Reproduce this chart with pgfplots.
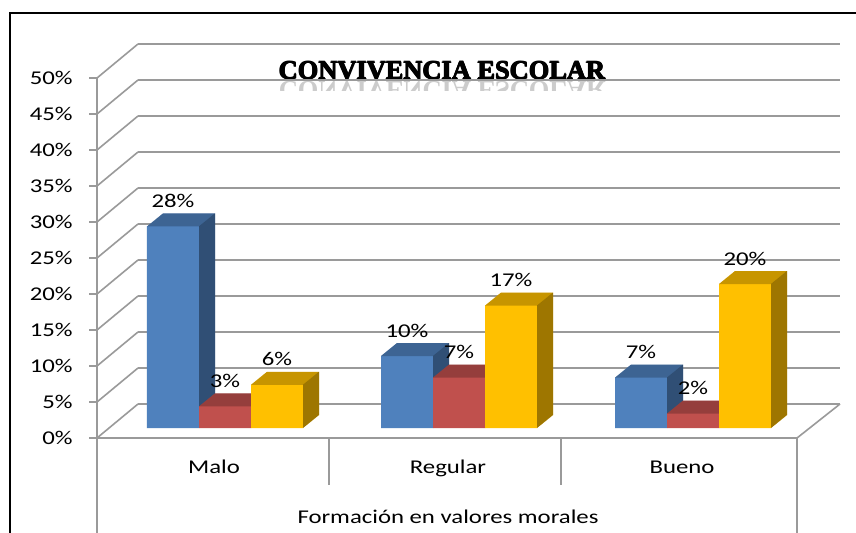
\documentclass[border=0pt]{standalone}
\usepackage{fontspec}
\setmainfont{Carlito}[FakeStretch=1.27]
\newfontfamily\titlefont{Liberation Serif}
\usepackage{pgfplots}
\pgfplotsset{compat=1.18}
\definecolor{blueF}{HTML}{4F81BD}
\definecolor{redF}{HTML}{C0504D}
\definecolor{yelF}{HTML}{FFC000}
\definecolor{gridc}{HTML}{9A9A9A}
\newcommand\lblfont{\fontsize{9.75pt}{11pt}\selectfont}
\newcommand\ttl{\titlefont\bfseries\fontsize{13.2pt}{15pt}\selectfont CONVIVENCIA ESCOLAR}

% a 3-D bar drawn at its data point (top centre of the front face)
\pgfdeclareplotmark{box3d}{%
  \pgfscope
  \pgfmathsetmacro\hh{\barh*3.6}%
  % front face
  \pgfpathrectangle{\pgfpoint{-13pt}{-\hh pt}}{\pgfpoint{26pt}{\hh pt}}%
  % top face
  \pgfpathmoveto{\pgfpoint{-13pt}{0pt}}%
  \pgfpathlineto{\pgfpoint{13pt}{0pt}}%
  \pgfpathlineto{\pgfpoint{21pt}{6.5pt}}%
  \pgfpathlineto{\pgfpoint{-5pt}{6.5pt}}%
  \pgfpathclose
  % side face
  \pgfpathmoveto{\pgfpoint{13pt}{0pt}}%
  \pgfpathlineto{\pgfpoint{21pt}{6.5pt}}%
  \pgfpathlineto{\pgfpoint{21pt}{6.5pt-\hh pt}}%
  \pgfpathlineto{\pgfpoint{13pt}{-\hh pt}}%
  \pgfpathclose
  \pgfusepathqfill
  \pgfsetfillcolor{black}%
  \pgfsetfillopacity{0.22}%
  \pgfpathmoveto{\pgfpoint{-13pt}{0pt}}%
  \pgfpathlineto{\pgfpoint{13pt}{0pt}}%
  \pgfpathlineto{\pgfpoint{21pt}{6.5pt}}%
  \pgfpathlineto{\pgfpoint{-5pt}{6.5pt}}%
  \pgfpathclose
  \pgfusepathqfill
  \pgfsetfillopacity{0.38}%
  \pgfpathmoveto{\pgfpoint{13pt}{0pt}}%
  \pgfpathlineto{\pgfpoint{21pt}{6.5pt}}%
  \pgfpathlineto{\pgfpoint{21pt}{6.5pt-\hh pt}}%
  \pgfpathlineto{\pgfpoint{13pt}{-\hh pt}}%
  \pgfpathclose
  \pgfusepathqfill
  \endpgfscope
}

\begin{document}
\begin{tikzpicture}[x=0.5pt,y=0.5pt]
\useasboundingbox (0,0) rectangle (856,532);
\fill[white] (0,0) rectangle (856,532);
% outer frame
\draw[line width=1pt] (10,-20) -- (10,519) -- (880,519);
% side wall lines and front ticks
\foreach \v in {0,5,...,50}{
  \draw[gridc, line width=0.8pt] (97,{94+7.2*\v}) -- (138,{128+7.2*\v});
  \draw[gridc, line width=0.8pt] (89,{94+7.2*\v}) -- (97,{94+7.2*\v});
}
% front vertical axis line
\draw[gridc, line width=0.8pt] (97,454) -- (97,-20);
% floor
\draw[gridc, line width=0.8pt] (97,94) -- (797,94) -- (840,128);
\draw[gridc, line width=0.8pt] (797,94) -- (797,-20);
\draw[gridc, line width=0.8pt] (329,94) -- (329,47);
\draw[gridc, line width=0.8pt] (561,94) -- (561,47);
% title with reflection
\begin{scope}
\clip (200,452) rectangle (700,442);
\node[anchor=base, inner sep=0pt, yscale=-1, text=black, opacity=0.2] at (442,451) {\ttl};
\end{scope}
\foreach \dx/\dy in {-0.6/0,0.6/0,0/0.4,0/-0.3,0/0}{
  \node[anchor=base, inner sep=0pt] at ({442+\dx},{453+\dy}) {\ttl};
}

\begin{axis}[
  at={(69pt,64pt)}, anchor=south west,
  scale only axis, width=351pt, height=180pt,
  xmin=0.5, xmax=3.5, ymin=0, ymax=50,
  clip=false,
  axis line style={draw=none},
  major tick style={draw=none},
  ymajorgrids, major grid style={gridc, line width=0.8pt},
  ytick={0,5,...,50},
  yticklabel={\pgfmathprintnumber{\tick}\%},
  /pgf/number format/assume math mode=true,
  yticklabel style={anchor=east, inner sep=0pt, xshift=-32.5pt, yshift=-17pt, font=\lblfont, text=black},
  xtick={1,2,3}, xticklabels={Malo,Regular,Bueno},
  xticklabel style={anchor=base, inner sep=0pt, xshift=-20.5pt, yshift=-34.5pt, font=\lblfont, text=black},
  xlabel={Formación en valores morales},
  xlabel style={at={(axis description cs:0.5,0)}, anchor=base, inner sep=0pt, xshift=-20.5pt, yshift=-59.5pt, font=\lblfont, text=black},
  nodes near coords={\pgfmathprintnumber{\pgfplotspointmeta}\%},
  every node near coord/.append style={anchor=base, inner sep=0pt, yshift=9.5pt, font=\lblfont, text=black, opacity=1},
  visualization depends on={rawy\as\barh},
]
\addplot[only marks, xshift=-41pt, yshift=-12pt,
  mark=box3d, mark options={fill=blueF}]
  coordinates {(1,28) (2,10) (3,7)};
\addplot[only marks, xshift=-15pt, yshift=-12pt,
  mark=box3d, mark options={fill=redF}]
  coordinates {(1,3) (2,7) (3,2)};
\addplot[only marks, xshift=11pt, yshift=-12pt,
  mark=box3d, mark options={fill=yelF}]
  coordinates {(1,6) (2,17) (3,20)};
\end{axis}
\end{tikzpicture}
\end{document}
